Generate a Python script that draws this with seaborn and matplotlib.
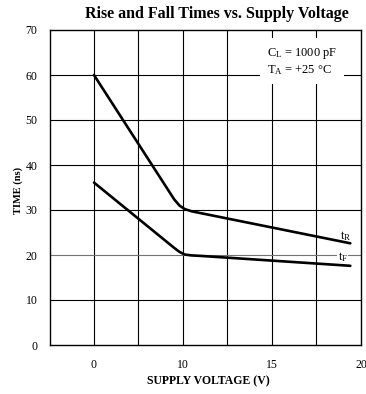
#!/usr/bin/env python3
"""Rise and fall times vs. supply voltage (datasheet style curve)."""

import matplotlib

matplotlib.use("Agg")
import matplotlib.pyplot as plt
import pandas as pd
import seaborn as sns

# x is in axis units: 0 and 10 sit where the chart prints "0" and "10",
# the last two printed labels ("15", "20") land on 20 and 30.
rise_v = [0.0, 9.0, 9.6, 10.2, 11.0, 12.0, 28.8]
rise_ns = [60.0, 32.4, 31.0, 30.2, 29.7, 29.3, 22.6]
fall_v = [0.0, 9.0, 9.6, 10.2, 11.0, 12.0, 28.8]
fall_ns = [36.1, 21.6, 20.7, 20.1, 19.9, 19.8, 17.6]

x_ticks = [0, 10, 20, 30]
x_tick_labels = ["0", "10", "15", "20"]
y_ticks = [0, 10, 20, 30, 40, 50, 60, 70]

SERIF = "Liberation Serif"


def configure_style():
    sns.set_theme(style="white")
    plt.rcParams.update(
        {
            "font.family": [SERIF, "DejaVu Serif"],
            "mathtext.fontset": "custom",
            "mathtext.rm": SERIF,
            "mathtext.it": SERIF + ":italic",
            "axes.edgecolor": "black",
            "axes.linewidth": 1.0,
            "text.color": "black",
            "axes.labelcolor": "black",
            "xtick.color": "black",
            "ytick.color": "black",
        }
    )


def main():
    configure_style()
    df = pd.concat(
        [
            pd.DataFrame({"v": rise_v, "t": rise_ns, "curve": "rise"}),
            pd.DataFrame({"v": fall_v, "t": fall_ns, "curve": "fall"}),
        ]
    )

    fig = plt.figure(figsize=(3.66, 3.94), dpi=100)
    ax = fig.add_axes([50 / 366, 1 - 345 / 394, 311 / 366, 315 / 394])

    sns.lineplot(
        data=df, x="v", y="t", units="curve", estimator=None,
        color="black", linewidth=1.9, ax=ax, zorder=4,
    )

    ax.set_xlim(-4.94, 30.0)
    ax.set_ylim(0, 70)
    for gx in [0, 5, 10, 15, 20, 25]:
        ax.axvline(gx, color="black", linewidth=0.8, zorder=1)
    for gy in y_ticks[1:-1]:
        ax.axhline(gy, color="black" if gy != 20 else "0.45", linewidth=0.8, zorder=1)

    ax.set_xticks(x_ticks)
    ax.set_xticklabels(x_tick_labels)
    ax.set_yticks(y_ticks)
    ax.tick_params(length=0, labelsize=8.5, pad=9)
    ax.tick_params(axis="x", pad=10)
    ax.set_xlabel("")
    ax.set_ylabel("")
    for side in ax.spines.values():
        side.set_visible(True)
        side.set_color("black")

    ax.text(
        19.4, 63.0,
        "C$_\\mathregular{L}$ = 1000 pF\nT$_\\mathregular{A}$ = +25 \u00b0C",
        fontsize=9, ha="left", va="center", linespacing=1.25,
        bbox={"facecolor": "white", "edgecolor": "none", "pad": 5},
        zorder=5,
    )
    ax.text(27.6, 24.3, "t$_\\mathregular{R}$", fontsize=9, ha="left", va="center", zorder=5)
    ax.text(27.4, 19.6, "t$_\\mathregular{F}$", fontsize=9, ha="left", va="center", zorder=3,
            bbox={"facecolor": "white", "edgecolor": "none", "pad": 0.3})

    fig.text(217 / 366, 1 - 14 / 394, "Rise and Fall Times vs. Supply Voltage",
             fontsize=11.5, fontweight="bold", ha="center", va="center")
    fig.text(18 / 366, 1 - 190 / 394, "TIME (ns)", fontsize=7.5, fontweight="bold",
             rotation=90, ha="center", va="center")
    fig.text(208 / 366, 1 - 381 / 394, "SUPPLY VOLTAGE (V)", fontsize=8.5,
             fontweight="bold", ha="center", va="center")

    fig.savefig("out.png", dpi=100, facecolor="white")
    plt.close(fig)


if __name__ == "__main__":
    main()
